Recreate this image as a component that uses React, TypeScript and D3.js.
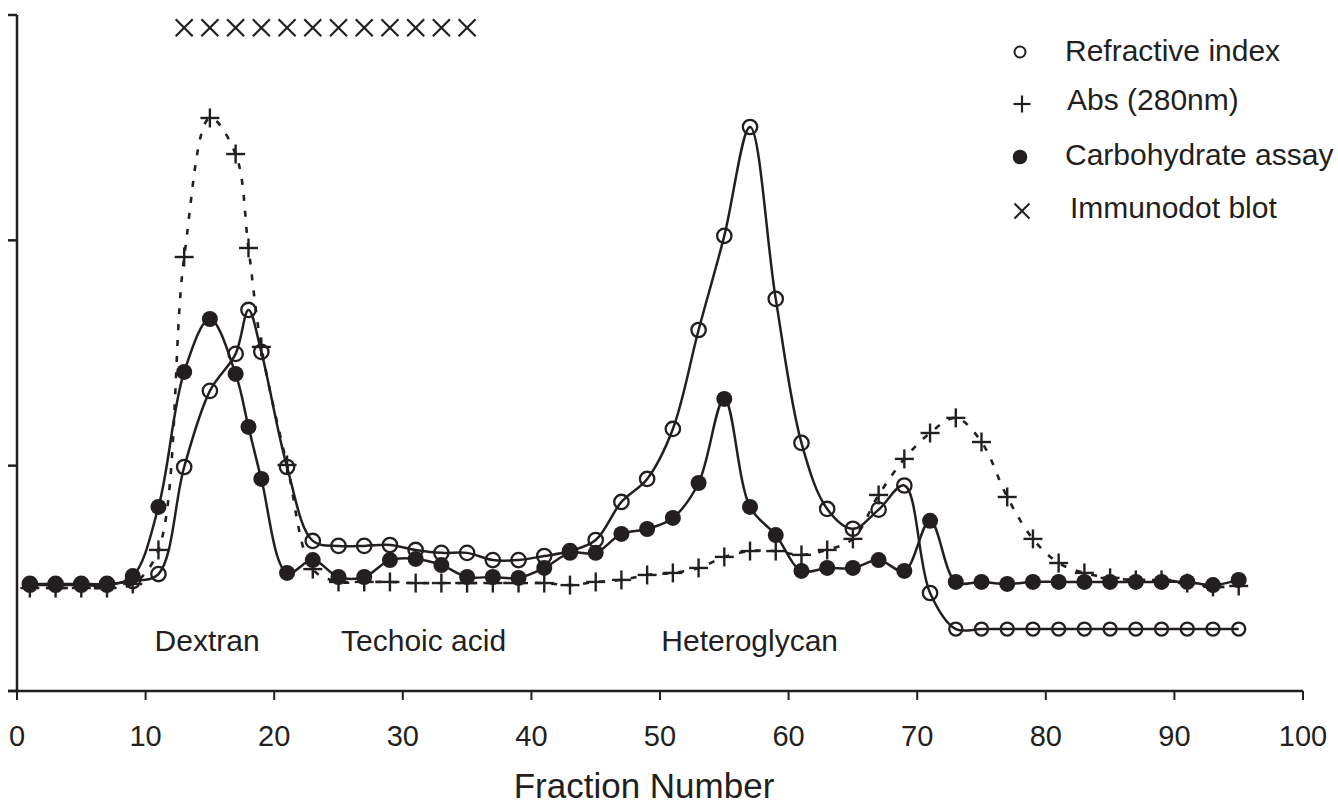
import React from "react";
import * as d3 from "d3";

// ---- data ----
const fractions = [1, 3, 5, 7, 9, 11, 13, 15, 17, 18, 19, 21, 23, 25, 27, 29, 31, 33, 35, 37, 39, 41, 43, 45, 47, 49, 51, 53, 55, 57, 59, 61, 63, 65, 67, 69, 71, 73, 75, 77, 79, 81, 83, 85, 87, 89, 91, 93, 95];

const refractiveIndex = [4.75, 4.75, 4.75, 4.75, 4.88, 5.19, 9.94, 13.32, 14.96, 16.91, 15.05, 9.94, 6.66, 6.44, 6.44, 6.48, 6.26, 6.13, 6.13, 5.81, 5.81, 5.99, 6.21, 6.7, 8.39, 9.41, 11.63, 16.02, 20.2, 25.03, 17.4, 11.01, 8.08, 7.2, 8.05, 9.12, 4.35, 2.75, 2.75, 2.75, 2.75, 2.75, 2.75, 2.75, 2.75, 2.75, 2.75, 2.75, 2.75];

const abs280 = [4.57, 4.57, 4.57, 4.57, 4.75, 6.26, 19.26, 25.43, 23.83, 19.66, 15.27, 10.03, 5.41, 4.84, 4.84, 4.84, 4.79, 4.79, 4.79, 4.79, 4.79, 4.79, 4.7, 4.84, 4.93, 5.15, 5.24, 5.46, 5.95, 6.21, 6.21, 6.04, 6.26, 6.75, 8.7, 10.3, 11.45, 12.12, 11.05, 8.61, 6.75, 5.68, 5.24, 5.02, 4.93, 4.93, 4.79, 4.62, 4.66];

const carbohydrate = [4.7, 4.7, 4.7, 4.7, 5.1, 8.17, 14.16, 16.51, 14.07, 11.72, 9.41, 5.24, 5.81, 5.06, 5.06, 5.81, 5.86, 5.59, 5.06, 5.06, 5.02, 5.46, 6.13, 6.13, 6.97, 7.19, 7.68, 9.23, 12.96, 8.17, 6.92, 5.33, 5.46, 5.46, 5.81, 5.33, 7.55, 4.84, 4.84, 4.75, 4.84, 4.84, 4.84, 4.84, 4.84, 4.84, 4.84, 4.7, 4.93];

const immunoFractions = [13, 15, 17, 19, 21, 23, 25, 27, 29, 31, 33, 35];
const immunoValues = [29.43, 29.43, 29.43, 29.43, 29.43, 29.43, 29.43, 29.43, 29.43, 29.43, 29.43, 29.43];

const xTicks = [0, 10, 20, 30, 40, 50, 60, 70, 80, 90, 100];
const yTicks = [0, 10, 20, 30];

const regionLabels = ["Dextran", "Techoic acid", "Heteroglycan"];
const regionLabelFractions = [10.7, 25.2, 50.1];

const legendLabels = ["Refractive index", "Abs (280nm)", "Carbohydrate assay", "Immunodot blot"];

// ---- layout ----
const W = 1338;
const H = 807;
const INK = "#231f20";
const FONT = "'Liberation Sans', Arial, Helvetica, sans-serif";

export default function App() {
  const x = d3.scaleLinear().domain([0, 100]).range([17, 1303]);
  const y = d3.scaleLinear().domain([0, 30]).range([691, 15]);

  const line = d3
    .line<number>()
    .x((_, i) => x(fractions[i]))
    .y((d) => y(d))
    .curve(d3.curveCatmullRom.alpha(0.5));

  const pts = (vals: number[]) => vals.map((v, i) => [x(fractions[i]), y(v)] as [number, number]);

  const cross = (cx: number, cy: number, s: number, key: string, sw = 2.4) => (
    <g key={key} stroke={INK} strokeWidth={sw}>
      <line x1={cx - s} x2={cx + s} y1={cy} y2={cy} />
      <line x1={cx} x2={cx} y1={cy - s} y2={cy + s} />
    </g>
  );
  const xMark = (cx: number, cy: number, s: number, key: string, sw = 2.2) => (
    <g key={key} stroke={INK} strokeWidth={sw}>
      <line x1={cx - s} x2={cx + s} y1={cy - s} y2={cy + s} />
      <line x1={cx - s} x2={cx + s} y1={cy + s} y2={cy - s} />
    </g>
  );

  return (
    <svg
      width={W}
      height={H}
      style={{ position: "absolute", left: 0, top: 0, background: "#fff" }}
      fontFamily={FONT}
    >
      <rect x={0} y={0} width={W} height={H} fill="#fff" />

      {/* axes */}
      <line x1={x(0)} x2={x(0)} y1={y(30)} y2={y(0)} stroke={INK} strokeWidth={2.5} />
      {yTicks.map((t) => (
        <line key={"yt" + t} x1={x(0) - 9} x2={x(0)} y1={y(t)} y2={y(t)} stroke={INK} strokeWidth={2.5} />
      ))}
      <line x1={x(0) - 9} x2={x(100)} y1={y(0)} y2={y(0)} stroke={INK} strokeWidth={2.5} />
      {xTicks.map((t) => (
        <g key={"xt" + t}>
          <line x1={x(t)} x2={x(t)} y1={y(0)} y2={y(0) + 9} stroke={INK} strokeWidth={2} />
          <text x={x(t)} y={746} fontSize={29} textAnchor="middle" fill={INK}>
            {t}
          </text>
        </g>
      ))}
      <text x={644} y={798} fontSize={35} textAnchor="middle" fill={INK}>
        Fraction Number
      </text>

      {/* region labels */}
      {regionLabels.map((l, i) => (
        <text key={l} x={x(regionLabelFractions[i])} y={651} fontSize={30} fill={INK}>
          {l}
        </text>
      ))}

      {/* Abs 280 - dotted */}
      <path d={line(abs280) || ""} fill="none" stroke={INK} strokeWidth={2.6} strokeDasharray="6 10" />
      {pts(abs280).map(([px, py], i) => cross(px, py, 9.5, "a" + i))}

      {/* Refractive index */}
      <path d={line(refractiveIndex) || ""} fill="none" stroke={INK} strokeWidth={2.5} />
      {pts(refractiveIndex).map(([px, py], i) => (
        <circle key={"r" + i} cx={px} cy={py} r={i >= 37 ? 6.5 : 7.2} fill="none" stroke={INK} strokeWidth={2.3} />
      ))}

      {/* Carbohydrate */}
      <path d={line(carbohydrate) || ""} fill="none" stroke={INK} strokeWidth={2.5} />
      {pts(carbohydrate).map(([px, py], i) => (
        <circle key={"c" + i} cx={px} cy={py} r={8} fill={INK} />
      ))}

      {/* Immunodot blot */}
      {immunoFractions.map((f, i) => xMark(x(f), y(immunoValues[i]), 8.5, "x" + i))}

      {/* legend */}
      <circle cx={1020} cy={52} r={5.5} fill="none" stroke={INK} strokeWidth={2} />
      {cross(1022, 104, 8.5, "lc", 2.2)}
      <circle cx={1020} cy={157} r={7.3} fill={INK} />
      {xMark(1022, 211, 7.5, "lx", 2)}
      <text x={1065} y={61} fontSize={30} fill={INK}>{legendLabels[0]}</text>
      <text x={1067} y={110} fontSize={30} fill={INK}>{legendLabels[1]}</text>
      <text x={1065} y={165} fontSize={30} fill={INK}>{legendLabels[2]}</text>
      <text x={1070} y={218} fontSize={30} fill={INK}>{legendLabels[3]}</text>
    </svg>
  );
}
